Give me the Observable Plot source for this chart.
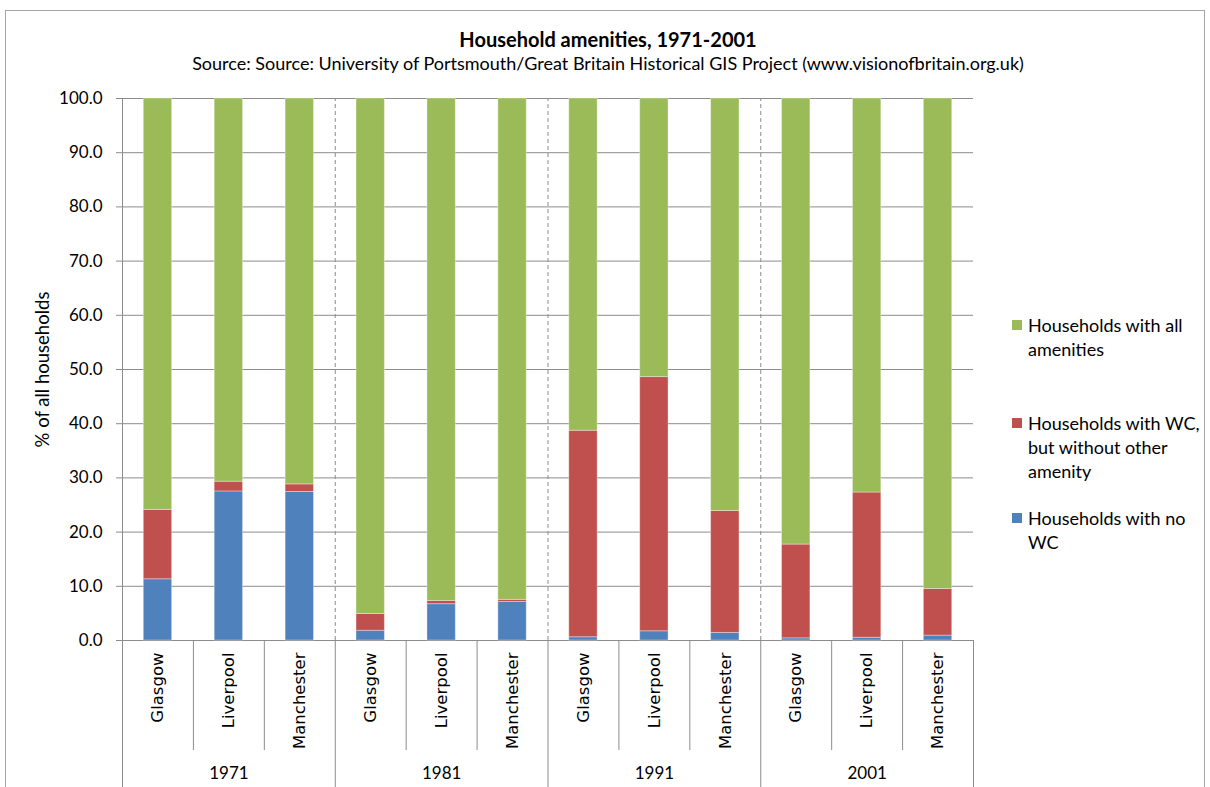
<!DOCTYPE html>
<html><head><meta charset="utf-8">
<script src="https://cdn.jsdelivr.net/npm/d3@7"></script>
<script src="https://cdn.jsdelivr.net/npm/@observablehq/plot@0.6"></script>
<style>
html,body{margin:0;padding:0;background:#fff;overflow:hidden;}
#wrap{position:relative;width:1210px;height:787px;font-family:Lato,"Open Sans",sans-serif;}
#border{position:absolute;left:5px;top:10px;width:1200px;height:820px;border:1px solid #a6a6a6;box-sizing:border-box;}
#chart{position:absolute;left:0;top:0;}
.t{position:absolute;left:0;width:1216px;text-align:center;color:#000;white-space:nowrap;}
#title{top:27px;font-size:20px;font-weight:bold;}
#subtitle{top:52px;font-size:18px;}
.leg{position:absolute;left:1012px;font-size:18px;line-height:24px;color:#000;}
.leg .sw{position:absolute;left:0;top:7px;width:10px;height:10px;}
.leg .lab{position:absolute;left:16px;top:0;width:190px;}
</style></head>
<body>
<div id="wrap">
  <div id="border"></div>
  <div id="chart"></div>
  <div class="t" id="title"></div>
  <div class="t" id="subtitle"></div>
  <div id="legend"></div>
</div>
<script>
const titleText = "Household amenities, 1971-2001";
const subtitleText = "Source: Source: University of Portsmouth/Great Britain Historical GIS Project (www.visionofbritain.org.uk)";
const yLabel = "% of all households";
const years = ["1971", "1981", "1991", "2001"];
const cities = ["Glasgow", "Liverpool", "Manchester"];
const seriesNames = ["Households with no WC", "Households with WC, but without other amenity", "Households with all amenities"];
const seriesColors = ["#4F81BD", "#C0504D", "#9BBB59"];
// values in order: 1971 G,L,M; 1981 G,L,M; 1991 G,L,M; 2001 G,L,M
const noWC   = [11.3, 27.5, 27.4, 1.8, 6.7, 7.1, 0.6, 1.7, 1.4, 0.4, 0.5, 0.9];
const wcOnly = [12.8, 1.8, 1.4, 3.1, 0.6, 0.4, 38.1, 46.9, 22.5, 17.3, 26.8, 8.6];
const allAm  = [75.9, 70.7, 71.2, 95.1, 92.7, 92.5, 61.3, 51.4, 76.1, 82.3, 72.7, 90.5];
const yTicks = [0, 10, 20, 30, 40, 50, 60, 70, 80, 90, 100];

document.getElementById("title").textContent = titleText;
document.getElementById("subtitle").textContent = subtitleText;

const seriesValues = [noWC, wcOnly, allAm];
const slots = [];
years.forEach((yr, yi) => cities.forEach((c, ci) => slots.push({slot: yi * cities.length + ci, year: yr, city: c})));
const rows = [];
slots.forEach((s, i) => {
  let base = 0;
  seriesNames.forEach((name, k) => {
    const v = seriesValues[k][i];
    rows.push({...s, series: name, y1: base, y2: base + v});
    base += v;
  });
});
const n = slots.length;
const groupEdges = d3.range(0, n + 1, cities.length);
const innerEdges = d3.range(0, n + 1).filter(e => e % cities.length !== 0);
const gray = "#8c8c8c";

const plot = Plot.plot({
  width: 1210, height: 787,
  marginLeft: 122, marginRight: 237, marginTop: 98, marginBottom: 147,
  style: {fontFamily: "Lato, 'Open Sans', sans-serif", background: "transparent"},
  x: {type: "linear", domain: [0, n], axis: null},
  y: {domain: [0, 100], axis: null},
  color: {domain: seriesNames, range: seriesColors},
  marks: [
    Plot.ruleY(yTicks, {y: d => d, stroke: gray, strokeWidth: 1, insetLeft: -6}),
    Plot.ruleX(groupEdges.slice(1, -1), {x: d => d, y1: 0, y2: 100, stroke: gray, strokeDasharray: "4,3"}),
    Plot.rectY(rows, {x1: d => d.slot + 0.3, x2: d => d.slot + 0.7, y1: "y1", y2: "y2", fill: "series", stroke: "#ffffff", strokeOpacity: 0.35, strokeWidth: 1}),
    Plot.ruleX([0], {x: d => d, y1: 0, y2: 100, stroke: gray}),
    Plot.ruleX(groupEdges, {x: d => d, y1: 0, y2: 0, insetBottom: -150, stroke: gray}),
    Plot.ruleX(innerEdges, {x: d => d, y1: 0, y2: 0, insetBottom: -110, stroke: gray}),
    Plot.text(yTicks, {y: d => d, text: d => d3.format(".1f")(d), frameAnchor: "left", dx: -20, textAnchor: "end", fontSize: 17, fill: "#000"}),
    Plot.text([yLabel], {text: d => d, frameAnchor: "left", dx: -79, rotate: -90, textAnchor: "middle", fontSize: 18.5, fill: "#000"}),
    Plot.text(slots, {x: d => d.slot + 0.5, y: 0, text: "city", rotate: -90, textAnchor: "end", lineAnchor: "middle", dy: 12, fontSize: 16.5, fontFamily: "'DejaVu Sans', Verdana, sans-serif", fill: "#000"}),
    Plot.text(years, {x: (d, i) => i * cities.length + cities.length / 2, y: 0, text: d => d, dy: 133, fontSize: 17, fill: "#000"})
  ]
});
document.getElementById("chart").appendChild(plot);

// legend
const legendItems = [
  {name: "Households with all amenities", lines: ["Households with all", "amenities"], color: seriesColors[2], top: 313},
  {name: "Households with WC, but without other amenity", lines: ["Households with WC,", "but without other", "amenity"], color: seriesColors[1], top: 411},
  {name: "Households with no WC", lines: ["Households with no", "WC"], color: seriesColors[0], top: 506}
];
const leg = document.getElementById("legend");
legendItems.forEach(it => {
  const d = document.createElement("div");
  d.className = "leg";
  d.style.top = it.top + "px";
  const sw = document.createElement("div");
  sw.className = "sw"; sw.style.background = it.color;
  const lab = document.createElement("div");
  lab.className = "lab";
  lab.innerHTML = it.lines.map(l => l.replace(/&/g, "&amp;")).join("<br>");
  d.appendChild(sw); d.appendChild(lab);
  leg.appendChild(d);
});
</script>
</body></html>
